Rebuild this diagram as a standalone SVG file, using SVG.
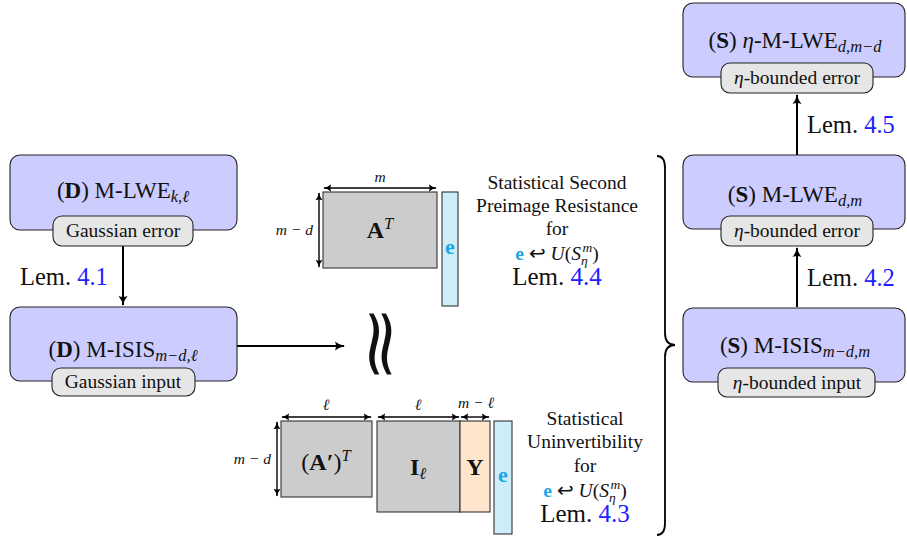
<svg xmlns="http://www.w3.org/2000/svg" width="907" height="538" viewBox="0 0 907 538">
<style>
.node{fill:#ccccff;stroke:#222;stroke-width:1.1}
.tag{fill:#e6e6e6;stroke:#222;stroke-width:1.1}
.mat{fill:#cccccc;stroke:#333;stroke-width:1.1}
.vec{fill:#cdeef9;stroke:#333;stroke-width:1.1}
.ymat{fill:#ffe5cc;stroke:#333;stroke-width:1.1}
text{fill:#111}
.lbl{font-size:23px;text-anchor:middle}
.tg{font-size:19.5px;text-anchor:middle}
.lem{font-size:24.5px}
.cap{font-size:19.5px;text-anchor:middle}
.lem2{font-size:25px;text-anchor:middle}
.dim{font-size:15.5px;font-style:italic;text-anchor:middle}
.dimr{font-size:15.5px;font-style:italic;text-anchor:end}
.blue{fill:#2020ff}
.cyan{fill:#1aa6e4;font-weight:bold}
.it{font-style:italic}
.b{font-weight:bold}
.conn{stroke:#000;stroke-width:2;fill:none}
.dimln{stroke:#000;stroke-width:1.4;fill:none}
</style>
<defs>
<marker id="ah" viewBox="0 0 10 10" refX="9" refY="5" markerWidth="10" markerHeight="10" markerUnits="userSpaceOnUse" orient="auto-start-reverse">
<path d="M0,0.5 Q4,4 10,5 Q4,6 0,9.5 Q2,5 0,0.5 Z" fill="#000"/>
</marker>
<marker id="ahs" viewBox="0 0 10 10" refX="9" refY="5" markerWidth="8" markerHeight="8" markerUnits="userSpaceOnUse" orient="auto-start-reverse">
<path d="M0,0.5 Q4,4 10,5 Q4,6 0,9.5 Q2,5 0,0.5 Z" fill="#000"/>
</marker>
</defs>

<g id="connectors">
<line class="conn" x1="123" y1="246" x2="123" y2="305" marker-end="url(#ah)"/>
<line class="conn" x1="237" y1="346" x2="344" y2="346" marker-end="url(#ah)"/>
<line class="conn" x1="797" y1="307" x2="797" y2="248" marker-end="url(#ah)"/>
<line class="conn" x1="797" y1="155" x2="797" y2="95" marker-end="url(#ah)"/>
<text font-family="Liberation Serif, serif" class="lem" x="20" y="285">Lem. <tspan class="blue">4.1</tspan></text>
<text font-family="Liberation Serif, serif" class="lem" x="807" y="286">Lem. <tspan class="blue">4.2</tspan></text>
<text font-family="Liberation Serif, serif" class="lem" x="807" y="133">Lem. <tspan class="blue">4.5</tspan></text>
</g>

<g id="D-MLWE">
<rect class="node" x="10" y="155" width="227" height="75" rx="10"/>
<text font-family="Liberation Serif, serif" class="lbl" x="123" y="198">(<tspan class="b">D</tspan>) M-LWE<tspan class="it" font-size="16.5" dy="4">k,ℓ</tspan></text>
<rect class="tag" x="53" y="216" width="140" height="30" rx="9"/>
<text font-family="Liberation Serif, serif" class="tg" x="123" y="237">Gaussian error</text>
</g>

<g id="D-MISIS">
<rect class="node" x="10" y="307" width="227" height="74" rx="10"/>
<text font-family="Liberation Serif, serif" class="lbl" x="123" y="357">(<tspan class="b">D</tspan>) M-ISIS<tspan class="it" font-size="16.5" dy="4">m−d,ℓ</tspan></text>
<rect class="tag" x="52" y="368" width="143" height="28" rx="9"/>
<text font-family="Liberation Serif, serif" class="tg" x="123" y="388">Gaussian input</text>
</g>

<g id="approx">
<text x="0" y="0" font-family="DejaVu Serif, serif" font-size="54" text-anchor="middle" dy="0.33em" transform="translate(381 344) rotate(90) scale(1.8 1.2)">≈</text>
</g>

<g id="SSPR">
<rect class="mat" x="323" y="192" width="114" height="76"/>
<text font-family="Liberation Serif, serif" x="380" y="238" font-size="24" text-anchor="middle"><tspan class="b">A</tspan><tspan class="it" font-size="16.5" dy="-9">T</tspan></text>
<rect class="vec" x="442" y="192" width="16" height="114"/>
<text font-family="Liberation Serif, serif" class="cyan" x="450" y="254" font-size="22" text-anchor="middle">e</text>
<line class="dimln" x1="324" y1="188" x2="436" y2="188" marker-start="url(#ahs)" marker-end="url(#ahs)"/>
<text font-family="Liberation Serif, serif" class="dim" x="380" y="182">m</text>
<line class="dimln" x1="319" y1="193" x2="319" y2="267" marker-start="url(#ahs)" marker-end="url(#ahs)"/>
<text font-family="Liberation Serif, serif" class="dimr" x="313" y="235">m − d</text>
<text font-family="Liberation Serif, serif" class="cap" x="557" y="189">Statistical Second</text>
<text font-family="Liberation Serif, serif" class="cap" x="557" y="212">Preimage Resistance</text>
<text font-family="Liberation Serif, serif" class="cap" x="557" y="235">for</text>
<text font-family="Liberation Serif, serif" class="cap" x="557" y="260"><tspan class="cyan">e</tspan> ↩ <tspan class="it">U</tspan>(<tspan class="it">S</tspan><tspan class="it" font-size="13.5" dy="5">η</tspan><tspan class="it" font-size="13.5" dx="-5" dy="-13">m</tspan><tspan dy="8">)</tspan></text>
<text font-family="Liberation Serif, serif" class="lem2" x="557" y="285">Lem. <tspan class="blue">4.4</tspan></text>
</g>

<g id="SU">
<rect class="mat" x="281" y="421" width="91" height="76"/>
<text font-family="Liberation Serif, serif" x="326" y="470" font-size="24" text-anchor="middle">(<tspan class="b">A′</tspan>)<tspan class="it" font-size="16.5" dy="-9">T</tspan></text>
<rect class="mat" x="377" y="421" width="83" height="91"/>
<text font-family="Liberation Serif, serif" x="418" y="475" font-size="24" text-anchor="middle"><tspan class="b">I</tspan><tspan class="it" font-size="16.5" dy="4">ℓ</tspan></text>
<rect class="ymat" x="460" y="421" width="30" height="91"/>
<text font-family="Liberation Serif, serif" x="475" y="475" font-size="24" text-anchor="middle" class="b">Y</text>
<rect class="vec" x="494" y="421" width="18" height="113"/>
<text font-family="Liberation Serif, serif" class="cyan" x="503" y="482" font-size="22" text-anchor="middle">e</text>
<line class="dimln" x1="282" y1="417" x2="371" y2="417" marker-start="url(#ahs)" marker-end="url(#ahs)"/>
<line class="dimln" x1="378" y1="417" x2="459" y2="417" marker-start="url(#ahs)" marker-end="url(#ahs)"/>
<line class="dimln" x1="461" y1="417" x2="489" y2="417" marker-start="url(#ahs)" marker-end="url(#ahs)"/>
<text font-family="Liberation Serif, serif" class="dim" x="326" y="410">ℓ</text>
<text font-family="Liberation Serif, serif" class="dim" x="418" y="410">ℓ</text>
<text font-family="Liberation Serif, serif" class="dim" x="476" y="408">m − ℓ</text>
<line class="dimln" x1="277" y1="422" x2="277" y2="496" marker-start="url(#ahs)" marker-end="url(#ahs)"/>
<text font-family="Liberation Serif, serif" class="dimr" x="271" y="464">m − d</text>
<text font-family="Liberation Serif, serif" class="cap" x="585" y="425">Statistical</text>
<text font-family="Liberation Serif, serif" class="cap" x="585" y="448">Uninvertibility</text>
<text font-family="Liberation Serif, serif" class="cap" x="585" y="472">for</text>
<text font-family="Liberation Serif, serif" class="cap" x="585" y="497"><tspan class="cyan">e</tspan> ↩ <tspan class="it">U</tspan>(<tspan class="it">S</tspan><tspan class="it" font-size="13.5" dy="5">η</tspan><tspan class="it" font-size="13.5" dx="-5" dy="-13">m</tspan><tspan dy="8">)</tspan></text>
<text font-family="Liberation Serif, serif" class="lem2" x="585" y="522">Lem. <tspan class="blue">4.3</tspan></text>
</g>

<g id="brace">
<path d="M657,156 Q665,156 665,168 L665,333 Q665,345 675,345 Q665,345 665,357 L665,523 Q665,535 657,535" fill="none" stroke="#000" stroke-width="1.8"/>
</g>

<g id="S-etaMLWE">
<rect class="node" x="683" y="3" width="222" height="74" rx="10"/>
<text font-family="Liberation Serif, serif" class="lbl" x="795" y="48">(<tspan class="b">S</tspan>) <tspan class="it">η</tspan>-M-LWE<tspan class="it" font-size="16.5" dy="4">d,m−d</tspan></text>
<rect class="tag" x="721" y="63" width="152" height="30" rx="9"/>
<text font-family="Liberation Serif, serif" class="tg" x="797" y="84"><tspan class="it">η</tspan>-bounded error</text>
</g>

<g id="S-MLWE">
<rect class="node" x="683" y="155" width="222" height="74" rx="10"/>
<text font-family="Liberation Serif, serif" class="lbl" x="795" y="202">(<tspan class="b">S</tspan>) M-LWE<tspan class="it" font-size="16.5" dy="4">d,m</tspan></text>
<rect class="tag" x="721" y="216" width="152" height="30" rx="9"/>
<text font-family="Liberation Serif, serif" class="tg" x="797" y="237"><tspan class="it">η</tspan>-bounded error</text>
</g>

<g id="S-MISIS">
<rect class="node" x="683" y="308" width="222" height="74" rx="10"/>
<text font-family="Liberation Serif, serif" class="lbl" x="795" y="353">(<tspan class="b">S</tspan>) M-ISIS<tspan class="it" font-size="16.5" dy="4">m−d,m</tspan></text>
<rect class="tag" x="718" y="368" width="157" height="29" rx="9"/>
<text font-family="Liberation Serif, serif" class="tg" x="797" y="389"><tspan class="it">η</tspan>-bounded input</text>
</g>
</svg>
